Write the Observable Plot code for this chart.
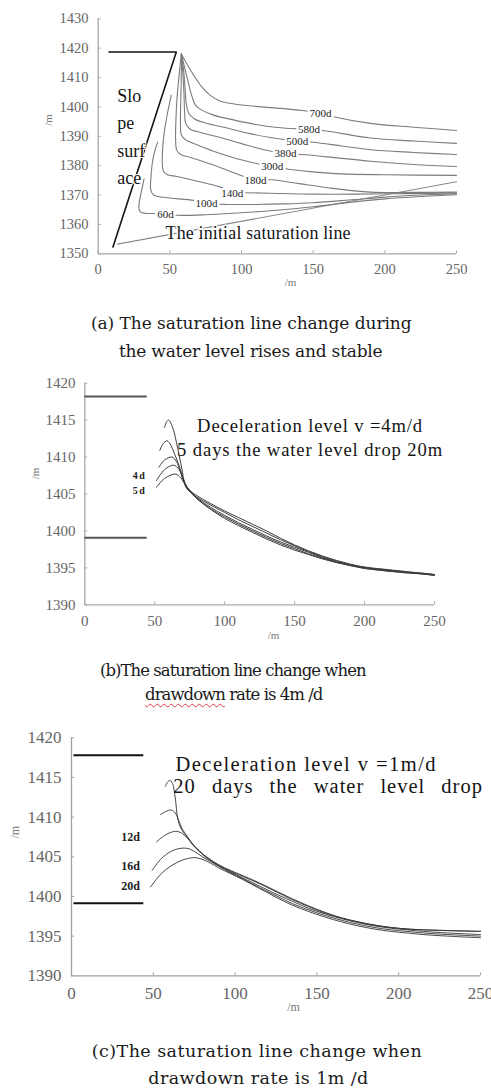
<!DOCTYPE html>
<html><head><meta charset="utf-8">
<script src="https://cdn.jsdelivr.net/npm/d3@7"></script>
<script src="https://cdn.jsdelivr.net/npm/@observablehq/plot@0.6"></script>
<style>
html,body{margin:0;padding:0;background:#fff;overflow:hidden}
#root{position:relative;width:491px;height:1088px;overflow:hidden;font-family:"DejaVu Serif",serif;background:#fff}
.panel{position:absolute;left:0}
.cap{position:absolute;white-space:nowrap;line-height:1;color:#1a1a1a;font-family:"DejaVu Serif",serif}
.wavy{text-decoration:underline wavy #e23b3b;text-decoration-thickness:1px;text-underline-offset:3px}
</style></head><body><div id="root"></div>
<script>
// ---------------- DATA ----------------
const xTicks = [0, 50, 100, 150, 200, 250];
const yTicksA = [1350, 1360, 1370, 1380, 1390, 1400, 1410, 1420, 1430];
const yTicksBC = [1390, 1395, 1400, 1405, 1410, 1415, 1420];

// Panel (a): slope face + crest, initial saturation line, day curves
const slopeFace = [[7.5,1418.7],[54.5,1418.7],[10.3,1352.3]];
const initialLine = [[13.5,1353.3],[250,1374.5]];
const a60  = [[32,1375.5],[30.5,1372],[28.8,1368],[28.4,1365.5],[29.5,1364.2],[33,1363.8],[40,1363.7],[47,1363.5],[55,1363.1],[75,1363.3],[100,1364],[125,1364.8],[150,1366],[175,1367.5],[200,1368.7],[225,1369.5],[250,1370.1]];
const a100 = [[41.5,1388],[39.5,1385],[37.8,1381],[36.8,1376],[36.6,1372],[38,1370.3],[41,1369.6],[50,1369],[66.7,1368.2],[75.6,1367.2],[90,1366.8],[110,1366.8],[130,1367],[150,1367.4],[175,1368.3],[200,1369.3],[225,1370],[250,1370.5]];
const a140 = [[51,1404],[48,1397],[46,1391],[45,1386],[44.7,1381],[45.4,1378.3],[48,1377],[55,1376.3],[70,1374.6],[85.3,1372.7],[93.5,1370.9],[103,1370.8],[120,1370.6],[150,1370.3],[180,1370.3],[215,1370.5],[250,1370.7]];
const a180 = [[58,1418],[56.5,1411],[55,1403],[54.2,1395],[54,1389],[54.8,1385.3],[57.5,1383.8],[65,1382.7],[80,1380.3],[95,1377.5],[109.8,1375.2],[121,1375.2],[140,1373.9],[160,1372.5],[190,1371],[220,1370.9],[250,1371]];
const a300 = [[58,1418],[58,1411],[57.6,1402],[57.4,1394],[58,1390.5],[61,1388.8],[68,1387.3],[80,1385],[95,1382.6],[108,1381],[121.4,1379.6],[133,1378.8],[150,1377.9],[170,1377.2],[200,1376.9],[250,1376.7]];
const a380 = [[58,1418],[59,1412],[59.8,1405],[60.3,1398],[61,1394.5],[64,1392.5],[72,1391.2],[85,1389.6],[100,1387.5],[115,1385.5],[130.7,1384],[142,1383.8],[160,1383],[190,1381.5],[220,1380.4],[250,1379.7]];
const a500 = [[58,1418],[59.5,1413],[60.5,1407],[61.5,1401],[63,1398],[67,1396],[75,1394.5],[90,1392.8],[105,1391],[120,1389.6],[138.9,1388.4],[150,1388],[170,1386.7],[190,1385.4],[220,1384.5],[250,1383.8]];
const a580 = [[58,1418],[60.5,1413],[63,1408],[65.5,1403.5],[68,1400.5],[72,1399],[80,1397.3],[95,1395.5],[110,1394],[125,1393],[147,1392.3],[158,1391.9],[190,1389.4],[220,1388.4],[250,1387.6]];
const a700 = [[58,1418],[62,1414.5],[67,1410.5],[72,1407],[78,1404],[85,1402],[95,1401],[110,1400.2],[125,1399.6],[140,1398.9],[155.1,1397.9],[165,1396.6],[190,1394.4],[220,1393.1],[250,1392]];
const aNames = ["60d","100d","140d","180d","300d","380d","500d","580d","700d"];
const aCurves = [a60, a100, a140, a180, a300, a380, a500, a580, a700];
const aLabelX = [47, 75.6, 93.5, 109.8, 121.4, 130.7, 138.9, 147, 155.1];
const aLabelY = [1363.5, 1367.2, 1370.6, 1375.1, 1379.6, 1384, 1388.4, 1392.3, 1397.9];
const slopeWords = ["Slo", "pe", "surf", "ace"];
const initialText = "The initial saturation line";

// Panel (b): drawdown 4 m/d
const bLevels = [1418.2, 1399.07];
const bLevelEnd = 44.6;
const b1 = [[57,1414],[58.5,1414.8],[60,1415],[61.5,1414.6],[63.5,1413.6],[65.5,1412],[67.5,1410.2],[69.5,1408.3],[71,1406.7],[73,1405.8],[80,1404.8],[90,1403.7],[100,1402.7],[110,1401.8],[120,1400.9],[130,1400],[140,1399],[150,1398.1],[160,1397.3],[170,1396.6],[180,1396],[190,1395.5],[200,1395.1],[210,1394.9],[220,1394.7],[230,1394.5],[240,1394.3],[250,1394.1]];
const b2 = [[53.6,1410.9],[56,1411.8],[58.9,1412.2],[61.5,1411.6],[64,1410.5],[66.5,1409.3],[69,1407.9],[71,1406.6],[73,1405.7],[80,1404.6],[90,1403.5],[100,1402.5],[110,1401.5],[120,1400.6],[130,1399.7],[140,1398.8],[150,1398],[160,1397.2],[170,1396.5],[180,1395.9],[190,1395.4],[200,1395.1],[210,1394.8],[220,1394.6],[230,1394.4],[240,1394.3],[250,1394.1]];
const b3 = [[52.9,1408.6],[57,1409.6],[62.4,1410],[65.5,1409.4],[68,1408.2],[70,1407],[72,1406.2],[75,1405.5],[80,1404.5],[90,1403.2],[100,1402.1],[110,1401.1],[120,1400.2],[130,1399.3],[140,1398.5],[150,1397.8],[160,1397.1],[170,1396.4],[180,1395.8],[190,1395.4],[200,1395],[210,1394.8],[220,1394.6],[230,1394.4],[240,1394.2],[250,1394]];
const b4 = [[51.2,1406.8],[57,1408.3],[63.6,1408.9],[67.5,1408.3],[70.8,1406.9],[73,1406],[76,1405.3],[80,1404.4],[90,1403],[100,1401.9],[110,1400.9],[120,1400],[130,1399.1],[140,1398.3],[150,1397.6],[160,1396.9],[170,1396.3],[180,1395.8],[190,1395.3],[200,1395],[210,1394.7],[220,1394.5],[230,1394.4],[240,1394.2],[250,1394]];
const b5 = [[51.2,1405.9],[57,1407.1],[64.8,1407.7],[68.5,1407.2],[72,1406.2],[75,1405.4],[80,1404.4],[90,1402.9],[100,1401.7],[110,1400.7],[120,1399.8],[130,1398.9],[140,1398.1],[150,1397.4],[160,1396.8],[170,1396.2],[180,1395.7],[190,1395.3],[200,1394.9],[210,1394.7],[220,1394.5],[230,1394.3],[240,1394.2],[250,1394]];
const bNames = ["1d","2d","3d","4d","5d"];
const bCurves = [b1, b2, b3, b4, b5];
const bLabels = ["4d", "5d"];
const bLabelY = [1407.4, 1405.4];
const bLabelX = [43.9, 43.9];
const bNote = ["Deceleration level v =4m/d", "5 days the water level drop 20m"];
const bNoteX = [80.3, 66];
const bNoteY = [1413.4, 1410.1];

// Panel (c): drawdown 1 m/d
const cLevels = [1417.8, 1399.16];
const cLevelStart = 1.5, cLevelEnd = 44.2;
const c1 = [[57.5,1413.9],[59,1414.5],[60.5,1414.6],[62,1414.1],[63,1413],[63.8,1411.8],[64.6,1410.2],[66,1409],[67.7,1408.3],[70.7,1407.5],[73.8,1406.6],[78,1405.7],[83,1404.9],[90,1404],[97,1403.3],[105,1402.6],[115,1401.7],[125,1400.7],[135,1399.7],[145,1398.8],[155,1398],[165,1397.3],[175,1396.8],[185,1396.4],[195,1396.1],[205,1395.9],[215,1395.8],[230,1395.7],[250,1395.6]];
const c2 = [[54.2,1410.3],[57.5,1410.7],[61,1410.9],[63.5,1410.5],[65.5,1409.6],[67.7,1408.5],[70.7,1407.6],[74,1406.6],[78,1405.7],[83,1404.8],[90,1403.9],[97,1403.2],[105,1402.5],[115,1401.6],[125,1400.6],[135,1399.6],[145,1398.7],[155,1397.9],[165,1397.3],[175,1396.8],[185,1396.4],[195,1396.1],[205,1395.9],[215,1395.8],[230,1395.7],[250,1395.6]];
const c3 = [[52,1406.9],[57,1407.7],[61,1408.1],[64.6,1408.2],[68,1407.9],[71,1407.3],[75,1406.4],[80,1405.4],[85,1404.6],[90,1403.9],[97,1403.1],[105,1402.3],[115,1401.3],[125,1400.3],[135,1399.4],[145,1398.5],[155,1397.8],[165,1397.2],[175,1396.7],[185,1396.3],[195,1396],[205,1395.8],[215,1395.6],[230,1395.4],[250,1395.2]];
const c4 = [[49.3,1403.3],[55,1404.8],[61,1405.7],[65,1406],[68.7,1406.1],[72,1406],[75,1405.7],[80,1405],[85,1404.4],[90,1403.8],[97,1403],[105,1402.2],[115,1401.1],[125,1400.1],[135,1399.1],[145,1398.3],[155,1397.6],[165,1397],[175,1396.5],[185,1396.1],[195,1395.8],[205,1395.6],[215,1395.4],[230,1395.2],[250,1395]];
const c5 = [[48.3,1401.2],[55,1402.9],[62,1404],[68,1404.6],[74.8,1404.9],[78,1404.8],[81,1404.6],[85,1404.2],[90,1403.6],[97,1402.9],[105,1402.1],[115,1401],[125,1399.9],[135,1398.9],[145,1398.1],[155,1397.4],[165,1396.8],[175,1396.3],[185,1395.9],[195,1395.6],[205,1395.4],[215,1395.2],[230,1395],[250,1394.8]];
const cNames = ["4d","8d","12d","16d","20d"];
const cCurves = [c1, c2, c3, c4, c5];
const cLabels = ["12d", "16d", "20d"];
const cLabelY = [1407.5, 1403.8, 1401.3];
const cLabelX = [41.8, 41.8, 41.8];
const cNote = ["Deceleration level v =1m/d", "20 days the water level drop"];
const cNoteX = [63.6, 62.2];
const cNoteY = [1415.8, 1413.1];

const captionA = ["(a) The saturation line change during", "the water level rises and stable"];
const captionB = ["(b)The saturation line change when", "drawdown rate is 4m /d"];
const captionC = ["(c)The saturation line change when", "drawdown rate is 1m /d"];

// ---------------- HELPERS ----------------
const root = document.getElementById("root");
const rows = (names, curves) => curves.flatMap((pts, i) => pts.map(([x, y]) => ({name: names[i], x, y})));
const pts = (p) => p.map(([x, y]) => ({x, y}));
const FONT = "'Liberation Serif', 'DejaVu Serif', serif";

function place(svg, top) {
  const d = document.createElement("div");
  d.className = "panel"; d.style.top = top + "px";
  d.appendChild(svg); root.appendChild(d);
}
function fitText(svg, content, w) {
  svg.querySelectorAll("text").forEach(t => {
    if (t.textContent === content) { t.setAttribute("textLength", w); t.setAttribute("lengthAdjust", "spacing"); }
  });
}
function axes(m, yTicks, axisColor, labelColor, fs, padX, padY) {
  const fw = 491 - m.marginLeft - m.marginRight;
  const fh = m.height - m.marginTop - m.marginBottom;
  return [
    Plot.ruleX([0], {stroke: axisColor, strokeWidth: 1.3}),
    Plot.ruleY([yTicks[0]], {stroke: axisColor, strokeWidth: 1.3}),
    Plot.tickY(yTicks, {y: d => d, stroke: axisColor, insetRight: fw - 3}),
    Plot.tickX(xTicks, {x: d => d, stroke: axisColor, insetTop: fh - 3}),
    Plot.axisY(yTicks, {tickSize: 0, tickPadding: padY, tickFormat: d => String(d), fontSize: fs, color: labelColor, label: null}),
    Plot.axisX(xTicks, {tickSize: 0, tickPadding: padX, tickFormat: d => String(d), fontSize: fs, color: labelColor, label: null})
  ];
}

// ---------------- PANEL A ----------------
const mA = {width: 491, height: 295, marginLeft: 97.7, marginRight: 35, marginTop: 18.3, marginBottom: 41.7};
const svgA = Plot.plot({
  ...mA,
  x: {domain: [0, 250]}, y: {domain: [1350, 1430]},
  style: {background: "transparent", fontFamily: FONT},
  marks: [
    ...axes(mA, yTicksA, "#a8a8a8", "#666", 14.5, 10, 9.7),
    Plot.line(pts(initialLine), {x: "x", y: "y", stroke: "#8a8a8a", strokeWidth: 1.1}),
    Plot.line(rows(aNames, aCurves), {x: "x", y: "y", z: "name", curve: "catmull-rom", stroke: "#7c7c7c", strokeWidth: 1.1}),
    Plot.line(pts(slopeFace), {x: "x", y: "y", stroke: "#151515", strokeWidth: 1.6}),
    Plot.text(aNames, {x: aLabelX, y: aLabelY, text: d => d, fontSize: 11, fill: "#222", stroke: "white", strokeWidth: 5}),
    Plot.text([slopeWords.join("\n")], {x: [13.3], y: [1373.8], textAnchor: "start", lineAnchor: "bottom", lineHeight: 1.52, fontSize: 18, fill: "#151515", stroke: "white", strokeWidth: 2}),
    Plot.text([initialText], {x: [47], y: [1355.1], textAnchor: "start", lineAnchor: "bottom", fontSize: 18, fill: "#151515", stroke: "white", strokeWidth: 3}),
    Plot.text(["/m"], {x: [134.2], frameAnchor: "bottom", dy: 31.7, fontSize: 11, fill: "#777"}),
    Plot.text(["/m"], {y: [1393.6], frameAnchor: "left", dx: -49.7, rotate: -90, fontSize: 11, fill: "#777"})
  ]
});
fitText(svgA, initialText, 185);
place(svgA, 0);

// ---------------- PANEL B ----------------
const mB = {width: 491, height: 280, marginLeft: 84.3, marginRight: 57, marginTop: 12.7, marginBottom: 45.7};
const svgB = Plot.plot({
  ...mB,
  x: {domain: [0, 250]}, y: {domain: [1390, 1420]},
  style: {background: "transparent", fontFamily: FONT},
  marks: [
    ...axes(mB, yTicksBC, "#a8a8a8", "#666", 15, 11, 9.3),
    Plot.ruleY(bLevels, {x1: 0, x2: bLevelEnd, stroke: "#555", strokeWidth: 2}),
    Plot.line(rows(bNames, bCurves), {x: "x", y: "y", z: "name", curve: "catmull-rom", stroke: "#3c3c3c", strokeWidth: 1}),
    Plot.text(bLabels, {x: bLabelX, y: bLabelY, text: d => d, textAnchor: "end", fontSize: 10, fontWeight: "bold", fill: "#222"}),
    Plot.text(bNote, {x: bNoteX, y: bNoteY, text: d => d, textAnchor: "start", lineAnchor: "bottom", fontSize: 18.6, fill: "#141414"}),
    Plot.text(["/m"], {x: [134.9], frameAnchor: "bottom", dy: 33.7, fontSize: 11, fill: "#777"}),
    Plot.text(["/m"], {y: [1407], frameAnchor: "left", dx: -49.3, rotate: -90, fontSize: 11, fill: "#777"})
  ]
});
fitText(svgB, bNote[0], 225);
fitText(svgB, bNote[1], 265);
svgB.querySelectorAll("text").forEach(t => { if (bLabels.includes(t.textContent)) t.style.letterSpacing = "1.5px"; });
place(svgB, 370);

// ---------------- PANEL C ----------------
const mC = {width: 491, height: 300, marginLeft: 71, marginRight: 11, marginTop: 12.3, marginBottom: 49.7};
const svgC = Plot.plot({
  ...mC,
  x: {domain: [0, 250]}, y: {domain: [1390, 1420]},
  style: {background: "transparent", fontFamily: FONT},
  marks: [
    ...axes(mC, yTicksBC, "#a0a0a0", "#666", 17, 11.5, 10),
    Plot.ruleY(cLevels, {x1: cLevelStart, x2: cLevelEnd, stroke: "#111", strokeWidth: 2}),
    Plot.line(rows(cNames, cCurves), {x: "x", y: "y", z: "name", curve: "catmull-rom", stroke: "#333", strokeWidth: 0.9}),
    Plot.text(cLabels, {x: cLabelX, y: cLabelY, text: d => d, textAnchor: "end", fontSize: 12, fontWeight: "bold", fill: "#222"}),
    Plot.text(cNote, {x: cNoteX, y: cNoteY, text: d => d, textAnchor: "start", lineAnchor: "bottom", fontSize: 20.5, fill: "#141414"}),
    Plot.text(["/m"], {x: [135.7], frameAnchor: "bottom", dy: 35.4, fontSize: 12, fill: "#777"}),
    Plot.text(["/m"], {y: [1407.3], frameAnchor: "left", dx: -56, rotate: -90, fontSize: 12, fill: "#777"})
  ]
});
fitText(svgC, cNote[0], 260);
svgC.querySelectorAll("text").forEach(t => {
  if (t.textContent === cNote[1]) { t.style.letterSpacing = "1px"; t.style.wordSpacing = "10px"; }
});
place(svgC, 725);

// ---------------- CAPTIONS ----------------
function caption(text, fontSize, center, baseline, target, wavyWord) {
  const d = document.createElement("div");
  d.className = "cap";
  d.style.fontSize = fontSize + "px";
  if (wavyWord && text.startsWith(wavyWord)) {
    const s = document.createElement("span"); s.className = "wavy"; s.textContent = wavyWord;
    d.appendChild(s); d.appendChild(document.createTextNode(text.slice(wavyWord.length)));
  } else d.textContent = text;
  root.appendChild(d);
  const w = d.getBoundingClientRect().width;
  const ls = (target - w) / (text.length - 1);
  d.style.letterSpacing = ls + "px";
  d.style.left = (center - target / 2) + "px";
  d.style.top = (baseline - 0.76 * fontSize) + "px";
}
caption(captionA[0], 17, 251.3, 328.3, 320.7);
caption(captionA[1], 17, 250.8, 356, 263.7);
caption(captionB[0], 16.5, 233.3, 676, 266.7);
caption(captionB[1], 16.5, 234.2, 699.5, 178.3, "drawdown");
caption(captionC[0], 17.5, 256.7, 1056, 330);
caption(captionC[1], 17.5, 258.3, 1083.3, 220);
</script></body></html>
